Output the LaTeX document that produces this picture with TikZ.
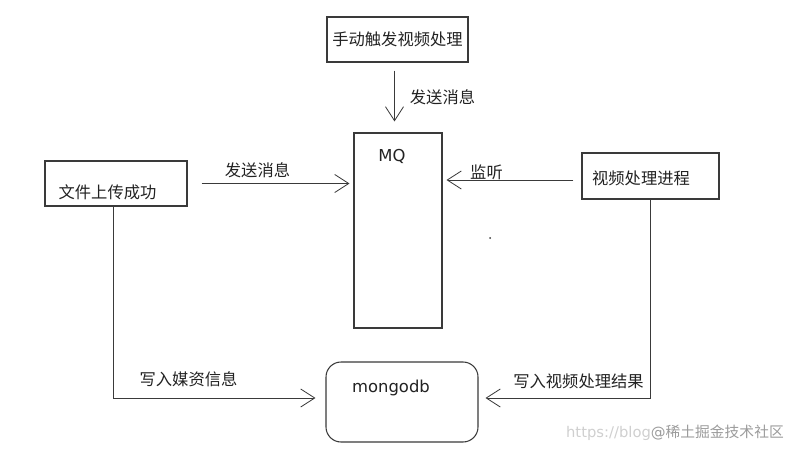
\documentclass[tikz,border=0pt]{standalone}
\usepackage{fontspec}
\setmainfont{Noto Sans CJK SC}
\newfontfamily\latinfont{DejaVu Sans}
\usepackage{tikz}
\usetikzlibrary{arrows.meta,positioning,calc}
\definecolor{FlowInk}{HTML}{222222}
\definecolor{FlowLine}{HTML}{3A3A3A}
\definecolor{FlowMark}{HTML}{CFCFCF}
\tikzset{
  flowlabel/.style={font=\fontsize{13.9}{16}\selectfont, text=FlowInk, inner sep=0pt},
  flowlatin/.style={font=\latinfont\fontsize{14}{16}\selectfont, text=FlowInk, inner sep=0pt},
  flowmark/.style={font=\fontsize{12.6}{14}\selectfont, text=FlowMark, inner sep=0pt},
  flowbox/.style={draw=FlowLine, line width=0.9pt, fill=white, inner sep=0pt},
  flowdb/.style={flowbox, rounded corners=0.45cm},
  flowarrow/.style={-{Straight Barb[length=0.42cm, width=0.54cm, line width=0.7pt]}, line width=0.7pt, draw=FlowLine},
  flowline/.style={line width=0.7pt, draw=FlowLine}
}
\begin{document}
\begin{tikzpicture}[x=0.03cm, y=-0.03cm]
\useasboundingbox (0,0) rectangle (789,450);
% boxes
\node[flowbox, minimum width=141*0.03cm, minimum height=45*0.03cm] (trig) at (397.5,39.5) {};
\node[flowbox, minimum width=88*0.03cm, minimum height=195*0.03cm] (mq) at (398,230.5) {};
\node[flowbox, minimum width=142*0.03cm, minimum height=45*0.03cm] (upload) at (116,183.5) {};
\node[flowbox, minimum width=137*0.03cm, minimum height=46*0.03cm] (proc) at (650.5,176) {};
\node[flowdb, minimum width=152*0.03cm, minimum height=80*0.03cm] (mongo) at (402,402) {};
% box texts
\node[flowlabel] (trigtext) at (trig.center) {手动触发视频处理};
\node[flowlatin] (mqtext) at (392,156) {MQ};
\node[flowlabel] (uploadtext) at (107.5,192) {文件上传成功};
\node[flowlabel] (proctext) at (641,178) {视频处理进程};
\node[flowlatin] (mongotext) at (391,388) {mongodb};
% coordinates
\coordinate (uploadbend) at (113,398);
\coordinate (procbend) at (650,398);
% connectors
\draw[flowarrow, shorten <=8*0.03cm, shorten >=11*0.03cm] ($(trig.south)+(-3,0)$) -- ($(trig.south |- mq.north)+(-3,0)$);
\draw[flowarrow, shorten <=14*0.03cm, shorten >=4*0.03cm] (upload.east) -- (upload.east -| mq.west);
\draw[flowarrow, shorten <=8*0.03cm, shorten >=4*0.03cm] ($(proc.west)+(0,4)$) -- ($(proc.west -| mq.east)+(0,4)$);
\draw[flowarrow] (upload.south -| uploadbend) -- (uploadbend) -- ($(mongo.west)+(-10,-4)$);
\draw[flowarrow] (proc.south -| procbend) -- (procbend) -- ($(mongo.east)+(7,-4)$);
% connector labels
\node[flowlabel] (msgtop) at (442.5,97) {发送消息};
\node[flowlabel] (msgleft) at (257.5,170) {发送消息};
\node[flowlabel] (listen) at (486.5,172) {监听};
\node[flowlabel] (writemedia) at (188.5,379) {写入媒资信息};
\node[flowlabel] (writeresult) at (578.5,381) {写入视频处理结果};
% stray dot and watermark
\fill[FlowLine] (490,238) circle (0.03cm);
\node[flowmark, anchor=east] (mark) at (784,433) {{\latinfont https://blog}\textcolor{FlowMark!75!black}{{\latinfont @}稀土掘金技术社区}};
\end{tikzpicture}
\end{document}
